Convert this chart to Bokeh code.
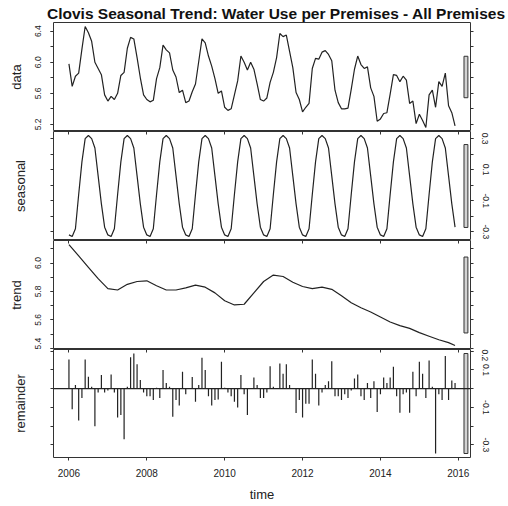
import numpy as np
from bokeh.plotting import figure
from bokeh.models import Range1d, LinearAxis, FixedTicker, Span, PrintfTickFormatter, Div
from bokeh.layouts import column
from bokeh.embed import file_html
from bokeh.resources import INLINE

# ---------------- data (monthly, Jan 2006 .. Dec 2015) ----------------
start_year = 2006
data = [
    5.98, 5.69, 5.82, 5.86, 6.17, 6.46, 6.38, 6.27, 6.00, 5.92, 5.84, 5.58,
    5.50, 5.56, 5.52, 5.60, 5.83, 5.87, 6.18, 6.32, 6.30, 6.06, 5.80, 5.58,
    5.52, 5.49, 5.51, 5.79, 5.93, 6.22, 6.16, 6.12, 5.90, 5.81, 5.61, 5.64,
    5.48, 5.50, 5.62, 5.72, 6.01, 6.30, 6.25, 6.08, 5.95, 5.79, 5.60, 5.63,
    5.42, 5.38, 5.40, 5.58, 5.76, 6.08, 6.00, 5.90, 6.00, 5.91, 5.72, 5.52,
    5.50, 5.54, 5.74, 5.87, 6.06, 6.37, 6.33, 6.35, 6.14, 5.93, 5.61, 5.52,
    5.36, 5.42, 5.47, 5.92, 6.05, 6.04, 6.13, 6.15, 6.10, 6.02, 5.64, 5.48,
    5.40, 5.40, 5.41, 5.65, 5.91, 6.08, 5.97, 5.92, 5.94, 5.67, 5.56, 5.24,
    5.27, 5.34, 5.35, 5.59, 5.84, 5.83, 5.75, 5.82, 5.77, 5.47, 5.50, 5.21,
    5.33, 5.25, 5.16, 5.58, 5.64, 5.42, 5.75, 5.69, 5.86, 5.44, 5.35, 5.18,
]
# periodic seasonal component, Jan..Dec
seasonal_pattern = [-0.32, -0.33, -0.28, -0.06, 0.15, 0.30, 0.32, 0.30, 0.24, 0.06, -0.12, -0.27]
# trend read every 3 months, plus last month
trend_months = list(range(0, 120, 3)) + [119]
trend_vals = [6.13, 6.05, 5.97, 5.89, 5.82, 5.81, 5.85, 5.87, 5.875, 5.84,
              5.81, 5.81, 5.825, 5.845, 5.83, 5.79, 5.735, 5.705, 5.71, 5.79,
              5.87, 5.915, 5.905, 5.865, 5.835, 5.82, 5.83, 5.815, 5.77, 5.72,
              5.685, 5.655, 5.62, 5.585, 5.56, 5.54, 5.51, 5.485, 5.46, 5.44, 5.42]
remainder = [
    0.156, -0.11, 0.02, -0.17, -0.05, 0.156, 0.064, 0.01, -0.20, -0.02, 0.073, -0.02,
    -0.01, 0.076, -0.02, -0.154, -0.14, -0.27, 0.01, 0.168, 0.188, 0.13, 0.046, -0.02,
    -0.04, -0.04, -0.06, 0.005, -0.05, 0.10, 0.03, 0.01, -0.15, -0.06, -0.09, 0.09,
    -0.03, 0.0, 0.062, -0.07, 0.02, 0.165, 0.10, -0.04, -0.09, -0.06, -0.057, 0.144,
    0.005, -0.02, -0.04, -0.07, -0.10, 0.073, -0.03, -0.14, 0.0, 0.06, 0.02, -0.05,
    -0.05, -0.02, 0.12, 0.01, 0.0, 0.135, 0.08, 0.13, 0.02, 0.0, -0.13, -0.06,
    -0.154, -0.08, -0.08, 0.156, 0.08, -0.09, -0.02, 0.02, 0.04, 0.147, -0.04, -0.04,
    -0.06, -0.03, -0.05, -0.01, 0.055, 0.076, -0.04, -0.06, 0.03, -0.05, 0.04, -0.124,
    -0.03, 0.06, 0.03, 0.06, 0.117, -0.04, -0.128, -0.03, -0.02, -0.128, 0.09, -0.04,
    0.144, 0.08, -0.05, 0.15, 0.01, -0.346, -0.03, -0.06, 0.174, -0.06, 0.044, 0.03,
]
year_ticks = [2006, 2008, 2010, 2012, 2014, 2016]
data_ticks_lab = [5.2, 5.6, 6.0, 6.4]
data_ticks_all = [5.2, 5.4, 5.6, 5.8, 6.0, 6.2, 6.4]
seas_ticks_lab = [-0.3, -0.1, 0.1, 0.3]
seas_ticks_all = [-0.3, -0.2, -0.1, 0.0, 0.1, 0.2, 0.3]
trend_ticks_lab = [5.4, 5.6, 5.8, 6.0]
trend_ticks_all = [5.4, 5.5, 5.6, 5.7, 5.8, 5.9, 6.0, 6.1]
rem_ticks_lab = [-0.3, -0.1, 0.1, 0.2]
rem_ticks_all = [-0.3, -0.2, -0.1, 0.0, 0.1, 0.2]
title_text = "Clovis Seasonal Trend: Water Use per Premises - All Premises"

# ---------------- derived ----------------
n = len(data)
t = start_year + np.arange(n) / 12.0
seasonal = np.tile(seasonal_pattern, n // 12)
trend_t = start_year + np.array(trend_months) / 12.0

span_x = t[-1] - t[0]
xr = Range1d(t[0] - 0.04 * span_x, t[-1] + 0.04 * span_x)

series = [np.array(data), seasonal, np.array(trend_vals), np.array(remainder)]
ranges = [(s.min(), s.max()) for s in series]
mx = min(hi - lo for lo, hi in ranges)
dx = (xr.end - xr.start) / 64.0

FONT = "Liberation Sans"
INK = "#222222"
FRAME = "#333333"
W = 508

# ---------------- title strip ----------------
title_div = Div(text=title_text, width=W, height=22,
                styles={"font-family": "'Liberation Sans', Arial, sans-serif",
                        "font-size": "15.5px", "font-weight": "bold",
                        "color": "#111111", "padding-left": "47px",
                        "padding-top": "6px", "line-height": "16px",
                        "white-space": "nowrap", "margin": "0",
                        "overflow": "visible", "box-sizing": "border-box"})


def yr(lo, hi):
    r = hi - lo
    return Range1d(lo - 0.04 * r, hi + 0.04 * r)


def panel(idx, height, top, bottom, name, ticks_lab, ticks_all, label_side):
    lo, hi = ranges[idx]
    p = figure(width=W, height=height, x_range=xr, y_range=yr(lo, hi),
               output_backend="svg", toolbar_location=None,
               x_axis_location=None, y_axis_location=None,
               min_border_left=53, min_border_right=38,
               min_border_top=top, min_border_bottom=bottom)
    p.grid.visible = False
    p.outline_line_color = FRAME
    p.outline_line_width = 1
    p.background_fill_color = "white"
    p.border_fill_color = "white"

    for side in ("left", "right"):
        if side == label_side:
            tk = FixedTicker(ticks=ticks_lab, minor_ticks=ticks_all)
        else:
            tk = FixedTicker(ticks=[], minor_ticks=ticks_all)
        ax = LinearAxis(ticker=tk, formatter=PrintfTickFormatter(format="%.1f"))
        ax.axis_line_color = None
        ax.major_tick_line_color = FRAME
        ax.minor_tick_line_color = FRAME
        ax.major_tick_out = 3
        ax.major_tick_in = 0
        ax.minor_tick_out = 3
        ax.minor_tick_in = 0
        ax.major_label_orientation = "vertical"
        ax.major_label_text_font = FONT
        ax.major_label_text_font_size = "8.5px"
        ax.major_label_text_color = INK
        ax.major_label_standoff = 9
        if side == "left":
            ax.axis_label = name
            ax.axis_label_text_font = FONT
            ax.axis_label_text_font_size = "13px"
            ax.axis_label_text_font_style = "normal"
            ax.axis_label_text_color = INK
            ax.axis_label_standoff = 9 if label_side == "left" else 23
        p.add_layout(ax, side)

    # range bar
    mn = (lo + hi) / 2.0
    p.quad(left=[xr.end - dx], right=[xr.end - 0.4 * dx],
           bottom=[mn - mx / 2.0], top=[mn + mx / 2.0],
           fill_color="#d3d3d3", line_color=FRAME, line_width=1)
    return p


def top_ticks(p):
    ax = LinearAxis(ticker=FixedTicker(ticks=[], minor_ticks=year_ticks))
    ax.axis_line_color = None
    ax.minor_tick_line_color = FRAME
    ax.minor_tick_in = 3
    ax.minor_tick_out = 0
    ax.major_tick_in = 0
    ax.major_tick_out = 0
    ax.major_label_standoff = 0
    p.add_layout(ax, "above")


p1 = panel(0, 109, 0, 0, "data", data_ticks_lab, data_ticks_all, "left")
p1.line(t, data, line_color=INK, line_width=1.2)

p2 = panel(1, 109, 0, 0, "seasonal", seas_ticks_lab, seas_ticks_all, "right")
p2.line(t, seasonal, line_color=INK, line_width=1.2)
top_ticks(p2)

p3 = panel(2, 109, 0, 0, "trend", trend_ticks_lab, trend_ticks_all, "left")
p3.line(trend_t, trend_vals, line_color=INK, line_width=1.2)
top_ticks(p3)

p4 = panel(3, 155, 0, 46, "remainder", rem_ticks_lab, rem_ticks_all, "right")
p4.segment(x0=t, y0=np.zeros(n), x1=t, y1=remainder, line_color=INK, line_width=1.2)
p4.add_layout(Span(location=0, dimension="width", line_color=INK, line_width=1.2))
top_ticks(p4)
bx = LinearAxis(ticker=FixedTicker(ticks=year_ticks))
bx.axis_line_color = None
bx.major_tick_line_color = FRAME
bx.major_tick_out = 3
bx.major_tick_in = 0
bx.minor_tick_out = 0
bx.major_label_text_font = FONT
bx.major_label_text_font_size = "10px"
bx.major_label_text_color = INK
bx.major_label_standoff = 8
bx.axis_label = "time"
bx.axis_label_text_font = FONT
bx.axis_label_text_font_size = "13px"
bx.axis_label_text_font_style = "normal"
bx.axis_label_text_color = INK
bx.axis_label_standoff = 7
p4.add_layout(bx, "below")

layout = column(title_div, p1, p2, p3, p4, spacing=0)
open("out.html", "w").write(file_html(layout, INLINE))
